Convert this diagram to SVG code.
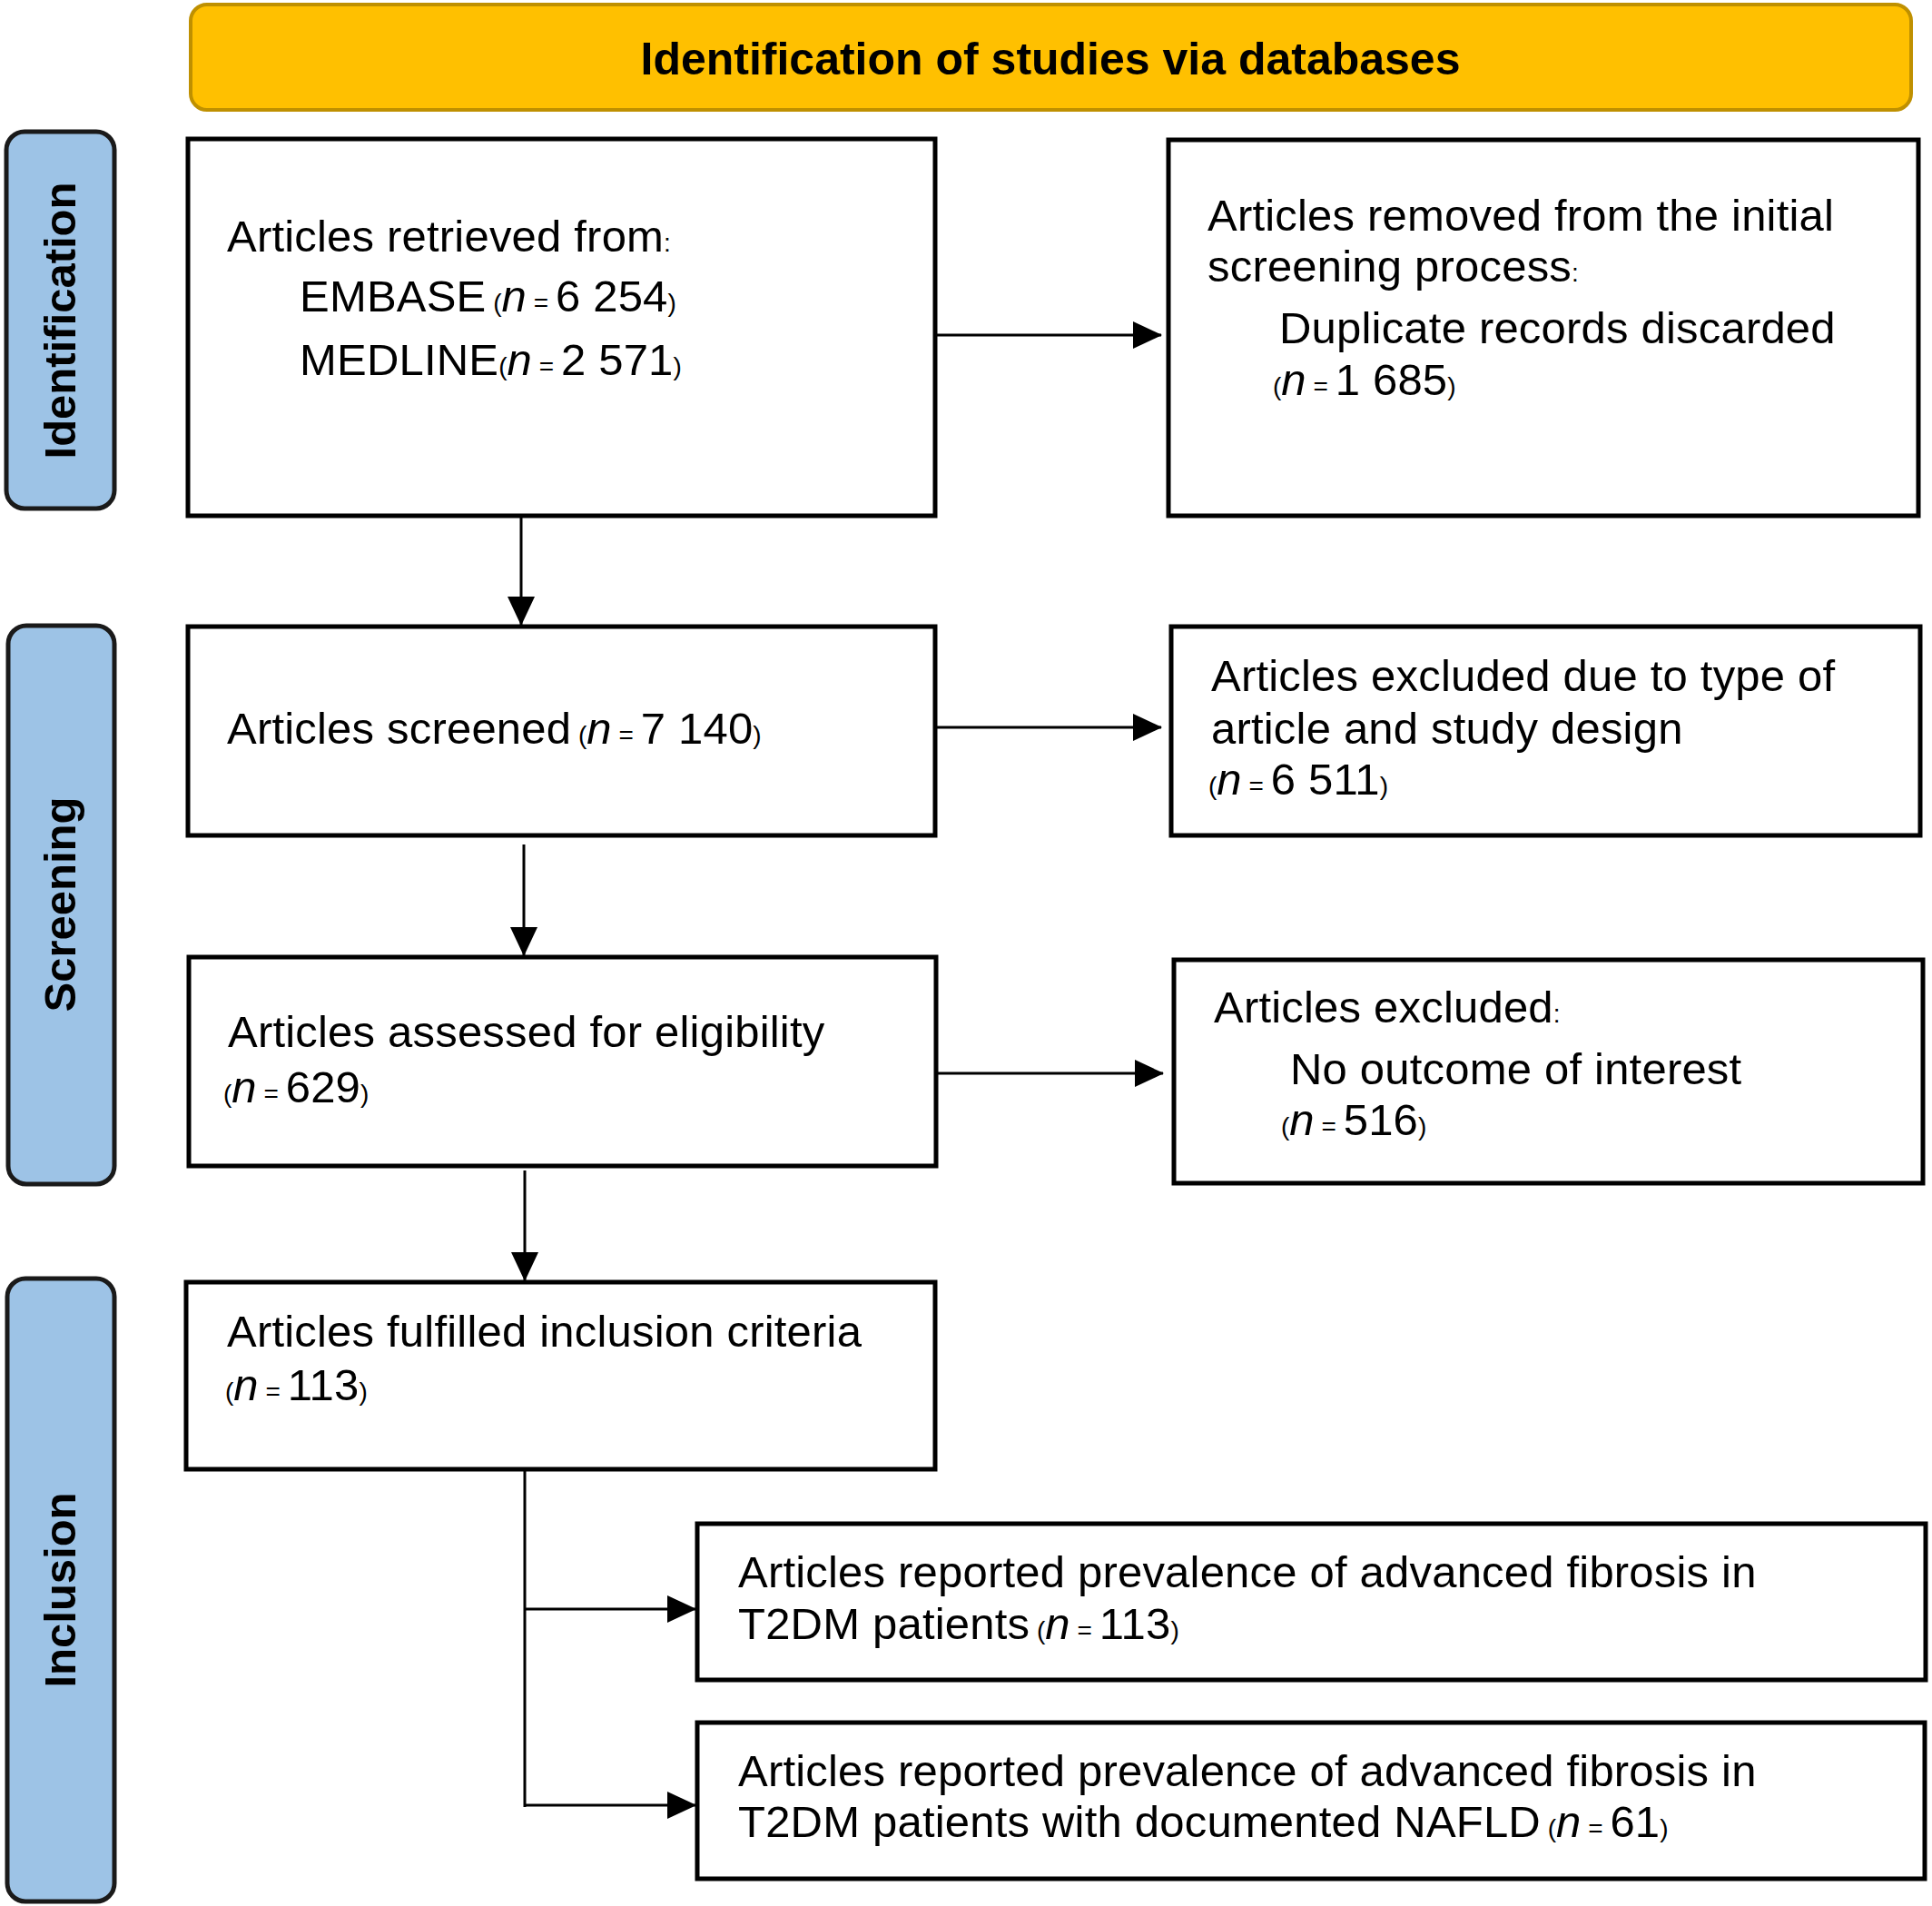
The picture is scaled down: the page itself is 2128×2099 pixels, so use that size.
<svg xmlns="http://www.w3.org/2000/svg" width="2128" height="2099" viewBox="0 0 2128 2099">
<defs>
<style>
.box{fill:#ffffff;stroke:#000000;stroke-width:5}
.side{fill:#9dc3e6;stroke:#1a1a1a;stroke-width:5}
.hdr{fill:#ffc000;stroke:#bf9000;stroke-width:4}
.t{font-family:"Liberation Sans",Arial,Helvetica,sans-serif;font-size:49px;letter-spacing:0.2px;fill:#000000}
.hb{font-family:"Liberation Sans",Arial,Helvetica,sans-serif;font-size:50px;font-weight:bold;fill:#000000}
.sb{font-family:"Liberation Sans",Arial,Helvetica,sans-serif;font-size:49px;font-weight:bold;fill:#000000}
.s{font-size:28px;letter-spacing:0px}
.i{font-style:italic}
.c{fill:none;stroke:#000000;stroke-width:3}
.ca{fill:none;stroke:#000000;stroke-width:3;marker-end:url(#ah)}
</style>
<marker id="ah" markerUnits="userSpaceOnUse" markerWidth="32" markerHeight="30" viewBox="0 0 32 30" refX="31" refY="15" orient="auto">
<path d="M0,0 L32,15 L0,30 Z" fill="#000000"/>
</marker>
</defs>
<rect width="2128" height="2099" fill="#ffffff"/>

<g id="header">
<rect class="hdr" x="210" y="5" width="1895" height="116" rx="18" ry="18"/>
<text class="hb" x="1157" y="82" text-anchor="middle">Identification of studies via databases</text>
</g>

<g id="phase-identification">
<rect class="side" x="7" y="145" width="119" height="415" rx="20" ry="20"/>
<text class="sb" transform="translate(83,353) rotate(-90)" text-anchor="middle">Identification</text>
</g>

<g id="phase-screening">
<rect class="side" x="9" y="689" width="117" height="615" rx="20" ry="20"/>
<text class="sb" transform="translate(83,996) rotate(-90)" text-anchor="middle">Screening</text>
</g>

<g id="phase-inclusion">
<rect class="side" x="8" y="1408" width="118" height="686" rx="20" ry="20"/>
<text class="sb" transform="translate(83,1751) rotate(-90)" text-anchor="middle">Inclusion</text>
</g>

<g id="node-retrieved">
<rect class="box" x="207" y="153" width="823" height="415"/>
<text class="t" x="250" y="277">Articles retrieved from<tspan class="s">:</tspan></text>
<text class="t" x="330" y="343">EMBASE<tspan class="s"> (</tspan><tspan class="i">n</tspan><tspan class="s"> = </tspan>6 254<tspan class="s">)</tspan></text>
<text class="t" x="330" y="413">MEDLINE<tspan class="s">(</tspan><tspan class="i">n</tspan><tspan class="s"> = </tspan>2 571<tspan class="s">)</tspan></text>
</g>

<g id="node-removed">
<rect class="box" x="1287" y="154" width="826" height="414"/>
<text class="t" x="1330" y="254">Articles removed from the initial</text>
<text class="t" x="1330" y="310">screening process<tspan class="s">:</tspan></text>
<text class="t" x="1409" y="378">Duplicate records discarded</text>
<text class="t" x="1402" y="435"><tspan class="s">(</tspan><tspan class="i">n</tspan><tspan class="s"> = </tspan>1 685<tspan class="s">)</tspan></text>
</g>

<g id="node-screened">
<rect class="box" x="207" y="690" width="823" height="230"/>
<text class="t" x="250" y="819">Articles screened<tspan class="s"> (</tspan><tspan class="i">n</tspan><tspan class="s"> = </tspan>7 140<tspan class="s">)</tspan></text>
</g>

<g id="node-excluded-type">
<rect class="box" x="1290" y="690" width="825" height="230"/>
<text class="t" x="1334" y="761">Articles excluded due to type of</text>
<text class="t" x="1334" y="819">article and study design</text>
<text class="t" x="1331" y="875"><tspan class="s">(</tspan><tspan class="i">n</tspan><tspan class="s"> = </tspan>6 511<tspan class="s">)</tspan></text>
</g>

<g id="node-eligibility">
<rect class="box" x="208" y="1054" width="823" height="230"/>
<text class="t" x="251" y="1153">Articles assessed for eligibility</text>
<text class="t" x="246" y="1214"><tspan class="s">(</tspan><tspan class="i">n</tspan><tspan class="s"> = </tspan>629<tspan class="s">)</tspan></text>
</g>

<g id="node-excluded-outcome">
<rect class="box" x="1293" y="1057" width="825" height="246"/>
<text class="t" x="1337" y="1126">Articles excluded<tspan class="s">:</tspan></text>
<text class="t" x="1421" y="1194">No outcome of interest</text>
<text class="t" x="1411" y="1250"><tspan class="s">(</tspan><tspan class="i">n</tspan><tspan class="s"> = </tspan>516<tspan class="s">)</tspan></text>
</g>

<g id="node-included">
<rect class="box" x="205" y="1412" width="825" height="206"/>
<text class="t" x="250" y="1483">Articles fulfilled inclusion criteria</text>
<text class="t" x="248" y="1542"><tspan class="s">(</tspan><tspan class="i">n</tspan><tspan class="s"> = </tspan>113<tspan class="s">)</tspan></text>
</g>

<g id="node-t2dm">
<rect class="box" x="768" y="1678" width="1353" height="172"/>
<text class="t" x="813" y="1748">Articles reported prevalence of advanced fibrosis in</text>
<text class="t" x="813" y="1805">T2DM patients<tspan class="s"> (</tspan><tspan class="i">n</tspan><tspan class="s"> = </tspan>113<tspan class="s">)</tspan></text>
</g>

<g id="node-t2dm-nafld">
<rect class="box" x="768" y="1897" width="1352" height="172"/>
<text class="t" x="813" y="1967">Articles reported prevalence of advanced fibrosis in</text>
<text class="t" x="813" y="2023">T2DM patients with documented NAFLD<tspan class="s"> (</tspan><tspan class="i">n</tspan><tspan class="s"> = </tspan>61<tspan class="s">)</tspan></text>
</g>

<g id="connectors">
<line class="ca" x1="1032" y1="369" x2="1279" y2="369"/>
<line class="ca" x1="574" y1="570" x2="574" y2="688"/>
<line class="ca" x1="1032" y1="801" x2="1279" y2="801"/>
<line class="ca" x1="577" y1="930" x2="577" y2="1052"/>
<line class="ca" x1="1033" y1="1182" x2="1281" y2="1182"/>
<line class="ca" x1="578" y1="1289" x2="578" y2="1410"/>
<line class="c" x1="578" y1="1620" x2="578" y2="1990"/>
<line class="ca" x1="578" y1="1772" x2="766" y2="1772"/>
<line class="ca" x1="578" y1="1988" x2="766" y2="1988"/>
</g>
</svg>
